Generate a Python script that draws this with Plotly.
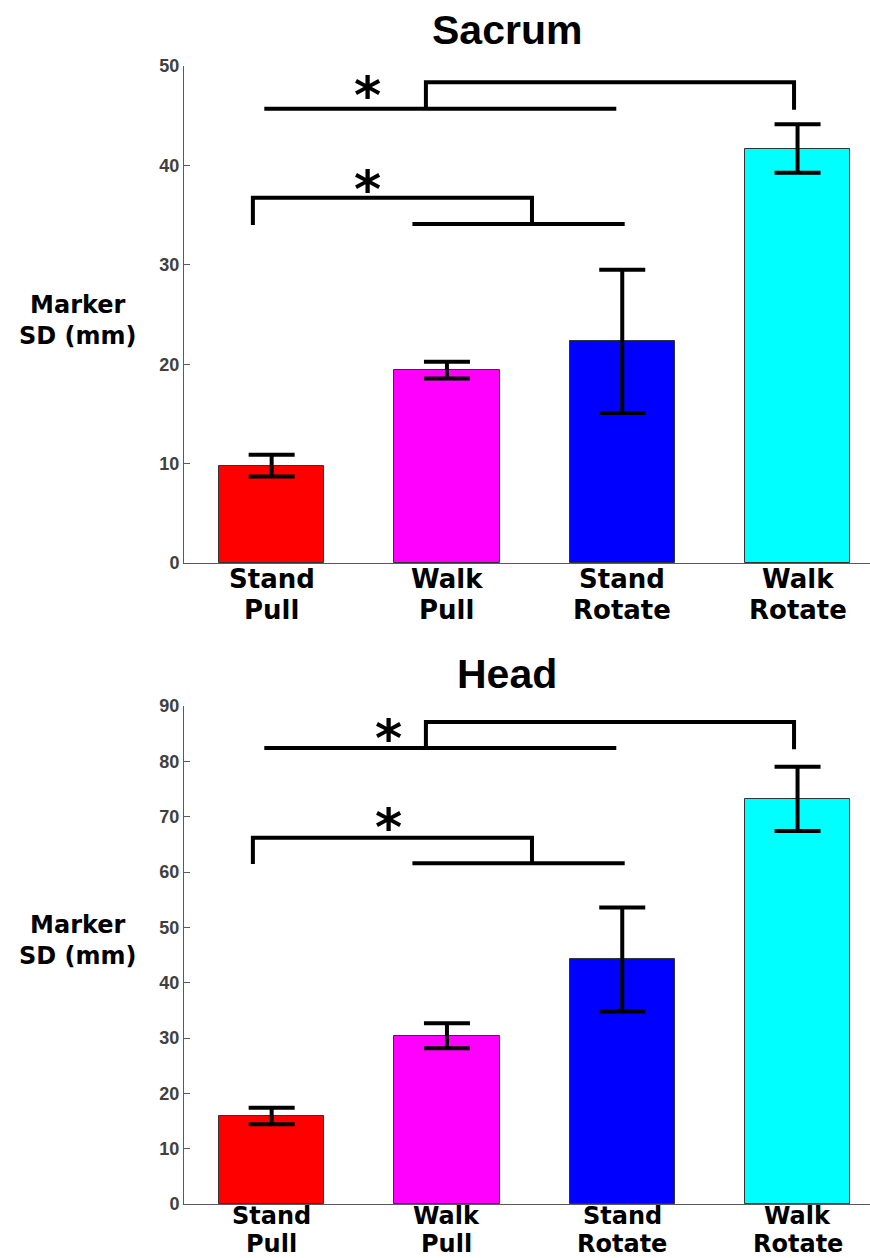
import plotly.graph_objects as go

# ---- data -------------------------------------------------------------
categories = ["Stand Pull", "Walk Pull", "Stand Rotate", "Walk Rotate"]
label_line1 = ["Stand", "Walk", "Stand", "Walk"]
label_line2 = ["Pull", "Pull", "Rotate", "Rotate"]
bar_colors = ["#FF0000", "#FF00FF", "#0000FF", "#00FFFF"]

sacrum_mean = [9.8, 19.4, 22.3, 41.7]
sacrum_err = [1.1, 0.85, 7.2, 2.45]
head_mean = [15.9, 30.4, 44.2, 73.2]
head_err = [1.5, 2.25, 9.4, 5.8]

sacrum_ticks = [0, 10, 20, 30, 40, 50]
head_ticks = [0, 10, 20, 30, 40, 50, 60, 70, 80, 90]

# significance brackets (x in category units, y in mm)
sacrum_upper_line_x = [0.958, 2.966]
sacrum_upper_line_y = [45.7, 45.7]
sacrum_upper_link_x = [1.88, 1.88, 3.98, 3.98]
sacrum_upper_link_y = [45.7, 48.36, 48.36, 45.6]
sacrum_lower_link_x = [0.893, 0.893, 2.485, 2.485]
sacrum_lower_link_y = [34.0, 36.75, 36.75, 34.1]
sacrum_lower_line_x = [1.803, 3.014]
sacrum_lower_line_y = [34.1, 34.1]
sacrum_star_x = [1.546, 1.546]
sacrum_star_y = [48.1, 38.6]

head_upper_line_x = [0.958, 2.966]
head_upper_line_y = [82.4, 82.4]
head_upper_link_x = [1.88, 1.88, 3.98, 3.98]
head_upper_link_y = [82.4, 87.1, 87.1, 82.2]
head_lower_link_x = [0.893, 0.893, 2.485, 2.485]
head_lower_link_y = [61.45, 66.2, 66.2, 61.7]
head_lower_line_x = [1.803, 3.014]
head_lower_line_y = [61.6, 61.6]
head_star_x = [1.666, 1.666]
head_star_y = [86.0, 70.0]

# ---- figure -----------------------------------------------------------
W, H = 870, 1258
xpos = [1, 2, 3, 4]

fig = go.Figure()


def add_panel(means, errs, xa, ya, brackets, stars):
    fig.add_trace(go.Bar(
        x=xpos, y=means, width=0.6,
        marker=dict(color=bar_colors, line=dict(color="#333333", width=1)),
        error_y=dict(type="data", array=errs, visible=True,
                     color="black", thickness=4, width=23),
        xaxis=xa, yaxis=ya, showlegend=False, hoverinfo="skip",
    ))
    for bx, by in brackets:
        fig.add_trace(go.Scatter(
            x=bx, y=by, mode="lines",
            line=dict(color="black", width=4),
            xaxis=xa, yaxis=ya, showlegend=False, hoverinfo="skip",
        ))
    sx, sy = stars
    for x, y in zip(sx, sy):
        fig.add_annotation(
            x=x, y=y, xref=xa, yref=ya,
            text="*", showarrow=False, yshift=-10,
            font=dict(family="DejaVu Sans", size=52, color="black", weight="bold"),
            xanchor="center", yanchor="middle",
        )


add_panel(sacrum_mean, sacrum_err, "x", "y",
          [(sacrum_upper_line_x, sacrum_upper_line_y),
           (sacrum_upper_link_x, sacrum_upper_link_y),
           (sacrum_lower_link_x, sacrum_lower_link_y),
           (sacrum_lower_line_x, sacrum_lower_line_y)],
          (sacrum_star_x, sacrum_star_y))
add_panel(head_mean, head_err, "x2", "y2",
          [(head_upper_line_x, head_upper_line_y),
           (head_upper_link_x, head_upper_link_y),
           (head_lower_link_x, head_lower_link_y),
           (head_lower_line_x, head_lower_line_y)],
          (head_star_x, head_star_y))


def py(px):
    return 1 - px / H


x_dom = [184 / W, 1.0]
x_range = [0.5, 0.5 + (W - 184) / 175.3]

axis_grey = "#5a5a5a"
xaxis_style = dict(domain=x_dom, range=x_range, showline=True, linecolor=axis_grey,
                   linewidth=1, showticklabels=False, ticks="", showgrid=False,
                   zeroline=False, fixedrange=True, automargin=False)
tick_font = dict(family="Liberation Sans, Arial, sans-serif", size=18,
                 color="#404040", weight="bold")
yaxis_style = dict(showline=True, linecolor=axis_grey, linewidth=1, ticks="inside",
                   ticklen=6, tickwidth=1, tickcolor=axis_grey, showgrid=False,
                   zeroline=False, tickfont=tick_font, fixedrange=True,
                   automargin=False)

fig.update_layout(
    width=W, height=H,
    margin=dict(l=0, r=0, t=0, b=0, autoexpand=False),
    paper_bgcolor="white", plot_bgcolor="white",
    bargap=0,
    xaxis=dict(anchor="y", **xaxis_style),
    xaxis2=dict(anchor="y2", **xaxis_style),
    yaxis=dict(anchor="x", domain=[py(563), py(66)], range=[0, 50],
               tickvals=sacrum_ticks, **yaxis_style),
    yaxis2=dict(anchor="x2", domain=[py(1204), py(706)], range=[0, 90],
                tickvals=head_ticks, **yaxis_style),
)

title_font = dict(family="Liberation Sans, Arial, sans-serif", size=41,
                  color="black", weight="bold")
label_font = dict(family="DejaVu Sans", size=24, color="black", weight="bold")

for title, ty in [("Sacrum", 30), ("Head", 673.5)]:
    fig.add_annotation(x=507 / W, y=py(ty), xref="paper", yref="paper",
                       text=title, showarrow=False, font=title_font,
                       xanchor="center", yanchor="middle")

for ly in [320, 940]:
    fig.add_annotation(x=78 / W, y=py(ly), xref="paper", yref="paper",
                       text="Marker<br>SD (mm)", showarrow=False, font=label_font,
                       xanchor="center", yanchor="middle", align="center")

# two-line category labels under each bar (bottom panel a little tighter
# so the last line stays inside the page)
for xa, (l1, l2), fsize in [("x", (579, 610), 26), ("x2", (1215.5, 1244), 24)]:
    cat_font = dict(family="DejaVu Sans", size=fsize, color="black", weight="bold")
    for i, x in enumerate(xpos):
        fig.add_annotation(x=x, y=py(l1), xref=xa, yref="paper",
                           text=label_line1[i], showarrow=False, font=cat_font,
                           xanchor="center", yanchor="middle")
        fig.add_annotation(x=x, y=py(l2), xref=xa, yref="paper",
                           text=label_line2[i], showarrow=False, font=cat_font,
                           xanchor="center", yanchor="middle")

fig.write_html("out.html")
